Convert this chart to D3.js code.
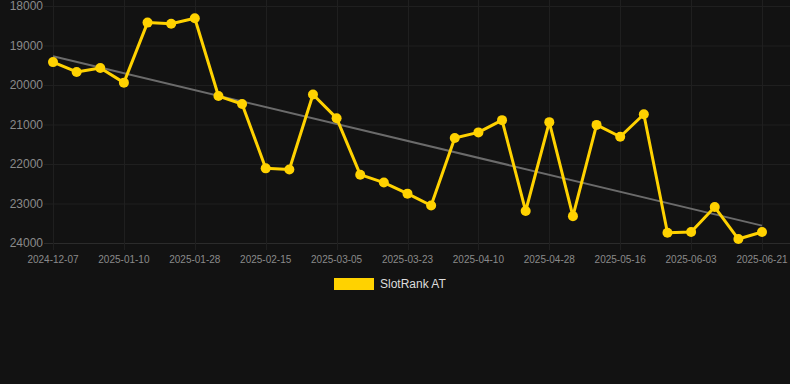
<!DOCTYPE html>
<html>
<head>
<meta charset="utf-8">
<script src="https://cdn.jsdelivr.net/npm/d3@7"></script>
<style>
  html, body { margin: 0; padding: 0; background: #121212; }
  svg { display: block; font-family: "Liberation Sans", Arial, sans-serif; }
</style>
</head>
<body>
<svg id="chart" width="790" height="384"></svg>
<script>
// categories (one every 6 days, labels shown every 3rd)
const dates = [
    "2024-12-07", "2024-12-29", "2025-01-04", "2025-01-10", "2025-01-16", "2025-01-22",
    "2025-01-28", "2025-02-03", "2025-02-09", "2025-02-15", "2025-02-21", "2025-02-27",
    "2025-03-05", "2025-03-11", "2025-03-17", "2025-03-23", "2025-03-29", "2025-04-04",
    "2025-04-10", "2025-04-16", "2025-04-22", "2025-04-28", "2025-05-04", "2025-05-10",
    "2025-05-16", "2025-05-22", "2025-05-28", "2025-06-03", "2025-06-09", "2025-06-15",
    "2025-06-21"
];

// SlotRank AT rank values
const ranks = [
    19420, 19670, 19570, 19940, 18420, 18450, 18310, 20280, 20480, 22110, 22140, 20240,
    20840, 22270, 22470, 22750, 23050, 21340, 21200, 20890, 23190, 20940, 23320, 21010,
    21310, 20740, 23740, 23720, 23090, 23900, 23720
];

// trend line end values
const trend = [19270, 23560];

const yTicks = [18000, 19000, 20000, 21000, 22000, 23000, 24000];

const svg = d3.select("#chart");

const x = d3.scalePoint()
    .domain(dates)
    .range([53, 762]);

const y = d3.scaleLinear()
    .domain([18000, 24000])
    .range([6, 243]);

const grid = svg.append("g");

// horizontal grid lines
grid.selectAll("line.h")
    .data(yTicks)
    .enter()
    .append("line")
    .attr("x1", 44)
    .attr("x2", 790)
    .attr("y1", d => y(d) + 0.5)
    .attr("y2", d => y(d) + 0.5)
    .attr("stroke", d => d === 24000 ? "#2b2b2b" : "#1f1f1f")
    .attr("stroke-width", 1);

// vertical grid lines at labelled dates
const shownDates = dates.filter((d, i) => i % 3 === 0);
grid.selectAll("line.v")
    .data(shownDates)
    .enter()
    .append("line")
    .attr("x1", d => Math.round(x(d)) + 0.5)
    .attr("x2", d => Math.round(x(d)) + 0.5)
    .attr("y1", 0)
    .attr("y2", 250)
    .attr("stroke", "#1f1f1f")
    .attr("stroke-width", 1);

// y axis labels
svg.append("g")
    .selectAll("text")
    .data(yTicks)
    .enter()
    .append("text")
    .attr("x", 43)
    .attr("y", d => y(d))
    .attr("dy", "0.35em")
    .attr("text-anchor", "end")
    .attr("fill", "#8a8a8a")
    .style("font-size", "12px")
    .text(d => d);

// x axis labels
svg.append("g")
    .selectAll("text")
    .data(shownDates)
    .enter()
    .append("text")
    .attr("x", d => x(d))
    .attr("y", 259)
    .attr("dy", "0.35em")
    .attr("text-anchor", "middle")
    .attr("fill", "#8a8a8a")
    .style("font-size", "10px")
    .text(d => d);

// trend line
svg.append("line")
    .attr("x1", x(dates[0]))
    .attr("y1", y(trend[0]))
    .attr("x2", x(dates[dates.length - 1]))
    .attr("y2", y(trend[1]))
    .attr("stroke", "#6b6b6b")
    .attr("stroke-width", 2);

// data line
const line = d3.line()
    .x((d, i) => x(dates[i]))
    .y(d => y(d));

svg.append("path")
    .datum(ranks)
    .attr("d", line)
    .attr("fill", "none")
    .attr("stroke", "#FFD200")
    .attr("stroke-width", 3)
    .attr("stroke-linejoin", "round");

svg.append("g")
    .selectAll("circle")
    .data(ranks)
    .enter()
    .append("circle")
    .attr("cx", (d, i) => x(dates[i]))
    .attr("cy", d => y(d))
    .attr("r", 5)
    .attr("fill", "#FFD200");

// legend
const legend = svg.append("g").attr("transform", "translate(334,278)");
legend.append("rect")
    .attr("width", 40)
    .attr("height", 12)
    .attr("fill", "#FFD200");
legend.append("text")
    .attr("x", 46)
    .attr("y", 6)
    .attr("dy", "0.35em")
    .attr("fill", "#dddddd")
    .style("font-size", "12px")
    .text("SlotRank AT");
</script>
</body>
</html>
